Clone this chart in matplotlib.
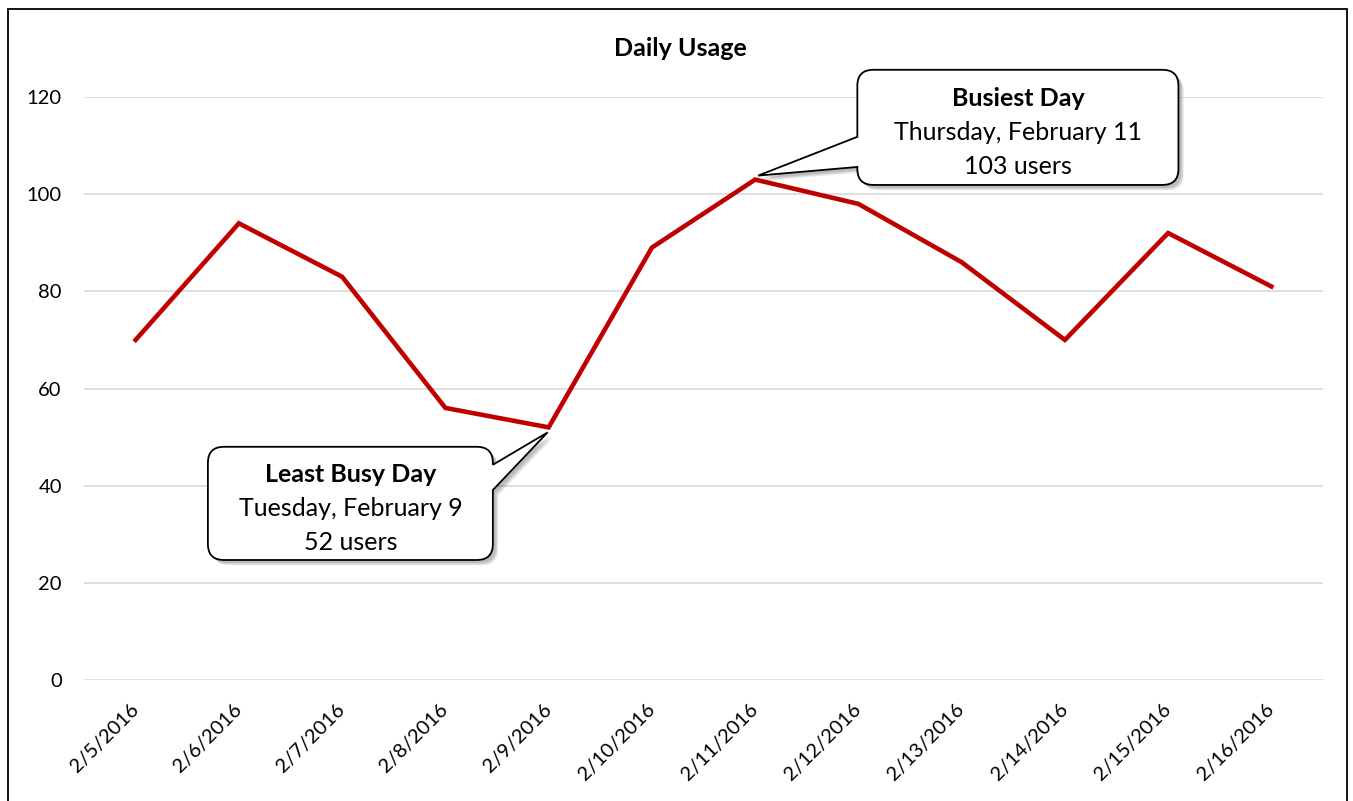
import numpy as np
import matplotlib.pyplot as plt
from matplotlib.path import Path
from matplotlib.patches import PathPatch, Rectangle
from matplotlib.transforms import IdentityTransform

# ==================================================
#   Data
dates = ['2/5/2016', '2/6/2016', '2/7/2016', '2/8/2016', '2/9/2016', '2/10/2016',
         '2/11/2016', '2/12/2016', '2/13/2016', '2/14/2016', '2/15/2016', '2/16/2016']
users = [70, 94, 83, 56, 52, 89, 103, 98, 86, 70, 92, 81]
yticks = [0, 20, 40, 60, 80, 100, 120]

busy_text = ['Busiest Day', 'Thursday, February 11', '103 users']
least_text = ['Least Busy Day', 'Tuesday, February 9', '52 users']

plt.rcParams['font.family'] = ['Lato', 'DejaVu Sans']

# ==================================================
W, H = 1353, 801
fig = plt.figure(figsize=(W / 100, H / 100), dpi=100)
ax = fig.add_axes([84 / W, 1 - 680 / H, (1323 - 84) / W, (680 - 97) / H])

x = np.arange(len(users))
ax.plot(x, users, color='#C00000', lw=3.3, solid_joinstyle='miter', zorder=3)
ax.set_xlim(-0.5, len(users) - 0.5)
ax.set_ylim(0, 120)
ax.set_yticks(yticks)
ax.set_xticks(x)
ax.set_xticklabels(dates, rotation=45, ha='right', va='center', rotation_mode='anchor')
ax.tick_params(axis='both', length=0, labelsize=14.5, labelcolor='black')
ax.tick_params(axis='y', pad=16)
ax.tick_params(axis='x', pad=19)
ax.grid(axis='y', color='#D9D9D9', lw=1.2)
ax.set_axisbelow(True)
for s in ax.spines.values():
    s.set_visible(False)

fig.text(680 / W, 1 - 49 / H, 'Daily Usage', ha='center', va='center',
         fontsize=18, fontweight='bold')

# outer chart frame
fig.add_artist(Rectangle((8 / W, -0.05), (1347 - 8) / W, 1.05 - 9 / H,
                         transform=fig.transFigure, fill=False, ec='black', lw=1.3))


# ==================================================
#   Callouts
def callout(i, box, base, side, lines, off):
    fig.canvas.draw()
    tx, ty = ax.transData.transform((i, users[i]))
    tx, ty = tx + off[0], ty + off[1]
    L, B = ax.transData.transform((box[0], box[1]))
    R, T = ax.transData.transform((box[2], box[3]))
    b_lo = ax.transData.transform((0, base[0]))[1]
    b_hi = ax.transData.transform((0, base[1]))[1]
    r = 16
    verts = [(L + r, T), (R - r, T), (R, T), (R, T - r)]
    codes = [Path.MOVETO, Path.LINETO, Path.CURVE3, Path.CURVE3]
    if side == 'right':
        verts += [(R, b_hi), (tx, ty), (R, b_lo)]
        codes += [Path.LINETO] * 3
    verts += [(R, B + r), (R, B), (R - r, B), (L + r, B), (L, B), (L, B + r)]
    codes += [Path.LINETO, Path.CURVE3, Path.CURVE3, Path.LINETO, Path.CURVE3, Path.CURVE3]
    if side == 'left':
        verts += [(L, b_lo), (tx, ty), (L, b_hi)]
        codes += [Path.LINETO] * 3
    verts += [(L, T - r), (L, T), (L + r, T), (L + r, T)]
    codes += [Path.LINETO, Path.CURVE3, Path.CURVE3, Path.CLOSEPOLY]
    v = np.array(verts)
    # soft shadow
    for k in range(1, 6):
        sp = Path(v + np.array([2 + k * 0.7, -2 - k * 0.7]), codes)
        ax.add_patch(PathPatch(sp, transform=IdentityTransform(), fc='black',
                               ec='none', alpha=0.06, clip_on=False, zorder=4))
    ax.add_patch(PathPatch(Path(v, codes), transform=IdentityTransform(), fc='white',
                           ec='black', lw=1.3, clip_on=False, zorder=5))
    cx = (box[0] + box[2]) / 2
    cy = (box[1] + box[3]) / 2 - 1.1
    for k, t in enumerate(lines):
        ax.text(cx, cy + 7 * (1 - k), t, ha='center', va='center', fontsize=18,
                fontweight='bold' if k == 0 else 'normal', zorder=6, clip_on=False)


callout(6, (6.99, 101.9, 10.1, 125.6), (105.6, 111.8), 'left', busy_text, (3, 4))
callout(4, (0.70, 24.7, 3.46, 48.0), (39.1, 44.3), 'right', least_text, (-1, -5))

fig.savefig('out.png', dpi=100)
